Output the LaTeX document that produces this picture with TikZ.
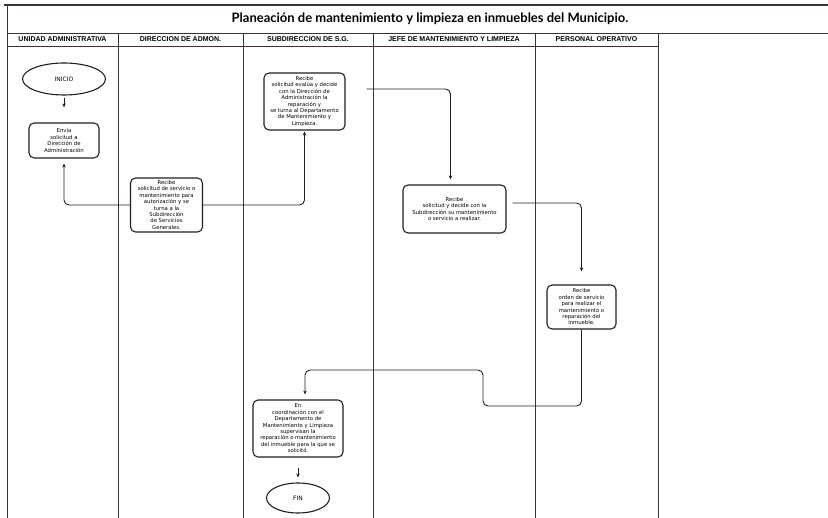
\documentclass[tikz,border=0pt]{standalone}
\usepackage{fontspec}
\setmainfont{DejaVu Sans}
\newfontfamily\titlefont{Lato}
\newfontfamily\headfont{Liberation Sans}
\usepackage{tikz}
\usetikzlibrary{shapes.geometric, arrows.meta, positioning}
\definecolor{myink}{RGB}{35,30,35}
\definecolor{myframe}{RGB}{60,50,55}
\tikzset{
  procbox/.style={rectangle, draw=myink, fill=white, rounded corners=5pt,
    line width=1.1pt, align=center, inner xsep=1pt, inner ysep=2pt,
    font=\fontsize{5.3}{6.4}\selectfont},
  termnode/.style={ellipse, draw=myink, fill=white, line width=1.1pt,
    inner sep=0pt, font=\fontsize{6}{7}\selectfont},
  lanehead/.style={font=\headfont\bfseries\fontsize{7}{8}\selectfont},
  arrow/.style={-{Stealth[length=4pt,width=3.5pt]}, line width=0.9pt,
    color=myink, rounded corners=5pt},
  lane/.style={line width=0.8pt, color=myframe}
}

\begin{document}
\begin{tikzpicture}[x=1pt, y=-1pt]
  \useasboundingbox (0,0) rectangle (828,518);

  % Frame and lanes
  \draw[line width=2pt, color=myframe] (4,5) -- (828,5);
  \draw[lane] (7,5) -- (7,518);
  \draw[lane] (7,33) -- (828,33);
  \draw[lane] (7,46) -- (658,46);
  \foreach \x in {118,243,373,535,658}
    \draw[lane] (\x,33) -- (\x,518);

  % Title and lane headers
  \node[font=\titlefont\bfseries\fontsize{13}{15}\selectfont] (title) at (430,19)
    {Planeación de mantenimiento y limpieza en inmuebles del Municipio.};
  \node[lanehead] (hunidad) at (62.5,39.5) {UNIDAD ADMINISTRATIVA};
  \node[lanehead] (hdir) at (180.5,39.5) {DIRECCION DE ADMON.};
  \node[lanehead] (hsub) at (308,39.5) {SUBDIRECCION DE S.G.};
  \node[lanehead] (hjefe) at (454,39.5) {JEFE DE MANTENIMIENTO Y LIMPIEZA};
  \node[lanehead] (hpers) at (596.5,39.5) {PERSONAL OPERATIVO};

  % Steps
  \node[termnode, minimum width=83pt, minimum height=32pt] (inicio) at (64,79) {INICIO};
  \node[procbox, minimum width=70pt, minimum height=35pt] (envia) at (64,140.5)
    {Envía\\solicitud a\\Dirección de\\Administración};
  \node[procbox, minimum width=72pt, minimum height=54pt] (recdir) at (166.5,205)
    {Recibe\\solicitud de servicio o\\mantenimiento para\\autorización y se\\turna a la\\Subdirección\\de Servicios\\Generales.};
  \node[procbox, minimum width=81pt, minimum height=57pt] (recsub) at (304.5,101.5)
    {Recibe\\solicitud evalúa y decide\\con la Dirección de\\Administración la\\reparación y\\se turna al Departamento\\de Mantenimiento y\\Limpieza.};
  \node[procbox, minimum width=103pt, minimum height=48pt] (recjefe) at (454.5,209)
    {Recibe\\solicitud y decide con la\\Subdirección su mantenimiento\\o servicio a realizar.};
  \node[procbox, minimum width=69pt, minimum height=44pt] (recper) at (581.5,307)
    {Recibe\\orden de servicio\\para realizar el\\mantenimiento o\\reparación del\\inmueble.};
  \node[procbox, minimum width=90pt, minimum height=57pt] (superv) at (298,428.5)
    {En\\coordinación con el\\Departamento de\\Mantenimiento y Limpieza\\supervisan la\\reparación o mantenimiento\\del inmueble para la que se\\solicitó.};
  \node[termnode, minimum width=63pt, minimum height=30pt] (fin) at (298,498) {FIN};

  % Connectors
  \coordinate (retorno) at (483,406);
  \draw[arrow, shorten <=2pt, shorten >=15pt] (inicio.south) -- (envia.north);
  \draw[arrow, shorten >=5pt] (recdir.west) -| (envia.south);
  \draw[arrow, shorten >=1pt] (recdir.east) -| (recsub.south);
  \draw[arrow, shorten <=21pt, shorten >=5pt] ([yshift=12.5pt]recsub.east) -| ([xshift=-4pt]recjefe.north);
  \draw[arrow, shorten <=6pt, shorten >=13pt] ([yshift=6pt]recjefe.east) -| (recper.north);
  \draw[arrow, shorten >=5pt] (recper.south) |- (retorno) -- (483,370) -| ([xshift=7pt]superv.north);
  \draw[arrow, shorten <=10pt, shorten >=5pt] (superv.south) -- (fin.north);

\end{tikzpicture}
\end{document}
